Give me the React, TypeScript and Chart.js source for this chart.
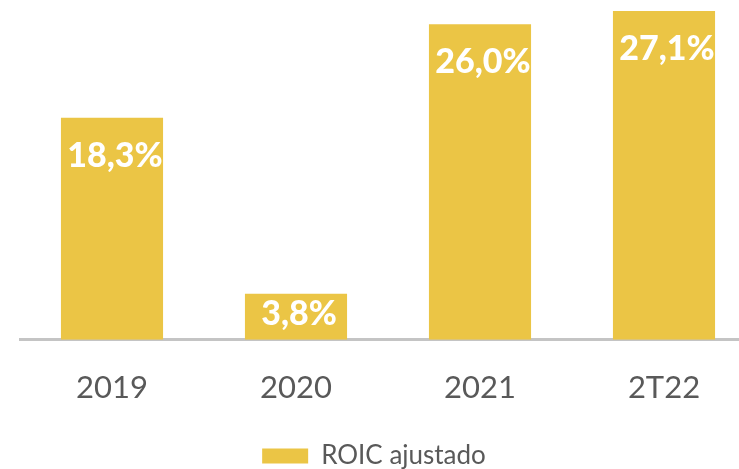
import React, { useEffect, useRef } from "react";
import { Chart, registerables } from "chart.js";

Chart.register(...registerables);

const categories = ["2019", "2020", "2021", "2T22"];
const roicValues = [18.3, 3.8, 26.0, 27.1];
const valueLabels = ["18,3%", "3,8%", "26,0%", "27,1%"];
const seriesName = "ROIC ajustado";

const barColor = "#EBC545";

const labelPlugin = {
  id: "barValueLabels",
  afterLayout(chart: any) {
    if (chart.legend) {
      chart.legend.left -= 14;
      chart.legend.right -= 14;
      chart.legend.top += 4;
      chart.legend.bottom += 4;
    }
  },
  afterDatasetsDraw(chart: any) {
    const ctx = chart.ctx;
    const meta = chart.getDatasetMeta(0);
    ctx.save();
    ctx.fillStyle = "#FFFFFF";
    ctx.font = "900 34px Lato";
    ctx.textAlign = "center";
    ctx.textBaseline = "middle";
    meta.data.forEach((bar: any, i: number) => {
      const top = bar.y;
      const base = bar.base;
      const y = Math.min(top + 38, (top + base) / 2 - 3);
      ctx.fillText(valueLabels[i], bar.x + 3, y);
    });
    ctx.restore();
  },
};

export default function App() {
  const canvasRef = useRef<HTMLCanvasElement | null>(null);

  useEffect(() => {
    if (!canvasRef.current) return;
    const chart = new Chart(canvasRef.current, {
      type: "bar",
      data: {
        labels: categories,
        datasets: [
          {
            label: seriesName,
            data: roicValues,
            backgroundColor: barColor,
            borderWidth: 0,
            categoryPercentage: 1,
            barPercentage: 0.555,
          },
        ],
      },
      options: {
        responsive: false,
        animation: false,
        layout: { padding: { left: 20, right: 0, top: 0, bottom: 0 } },
        scales: {
          y: { display: false, min: 0, max: 28 },
          x: {
            grid: { display: false },
            border: { display: true, color: "#C4C4C4", width: 3 },
            ticks: {
              color: "#595959",
              font: { family: "Lato", size: 31 },
              padding: 22,
            },
          },
        },
        plugins: {
          legend: {
            position: "bottom",
            labels: {
              boxWidth: 46,
              boxHeight: 15,
              color: "#595959",
              font: { family: "Lato", size: 26 },
              padding: 10,
            },
          },
          tooltip: { enabled: false },
        },
      },
      plugins: [labelPlugin],
    });
    return () => chart.destroy();
  }, []);

  return (
    <div
      style={{
        position: "absolute",
        left: 0,
        top: 0,
        width: 739,
        height: 469,
        overflow: "hidden",
        background: "#FFFFFF",
      }}
    >
      <canvas ref={canvasRef} width={756} height={475} style={{ display: "block" }} />
    </div>
  );
}
